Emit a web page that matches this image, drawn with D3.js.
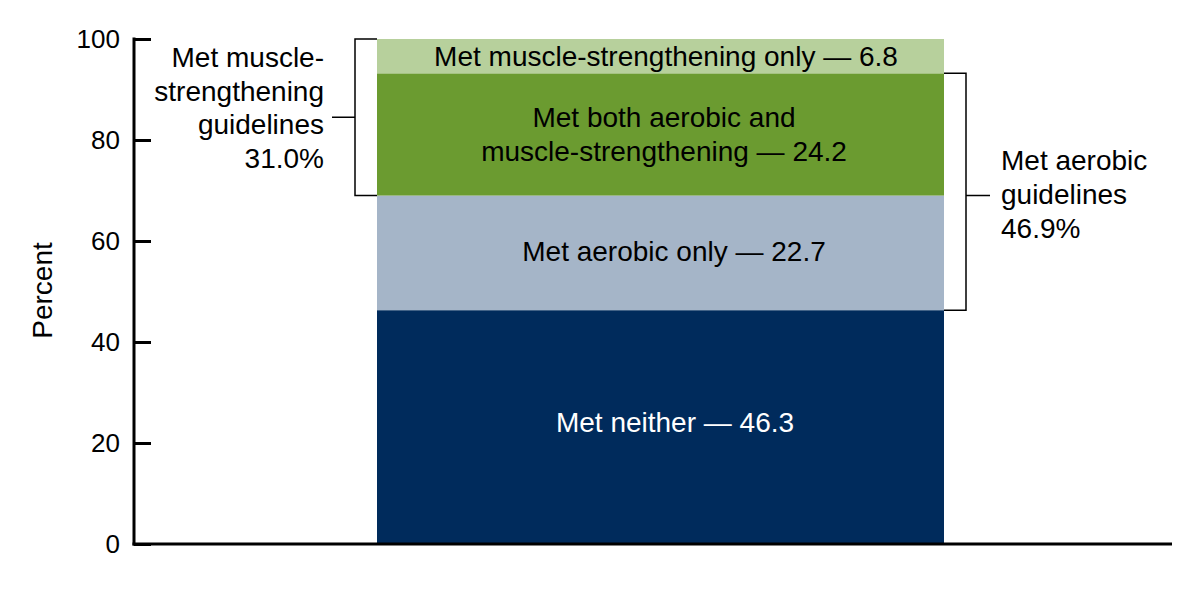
<!DOCTYPE html>
<html><head><meta charset="utf-8">
<script src="https://cdn.jsdelivr.net/npm/d3@7"></script>
<style>body{margin:0;background:#fff}svg{display:block}text{font-family:"Liberation Sans",Arial,sans-serif}</style>
</head><body>
<svg id="c" width="1200" height="591"></svg>
<script>
const categories = ["Met neither", "Met aerobic only", "Met both aerobic and muscle-strengthening", "Met muscle-strengthening only"];
const values = [46.3, 22.7, 24.2, 6.8];
const colors = ["#002b5c", "#a5b5c8", "#6b9b30", "#b7d09c"];
const segLabels = [["Met neither — 46.3"], ["Met aerobic only — 22.7"], ["Met both aerobic and", "muscle-strengthening — 24.2"], ["Met muscle-strengthening only — 6.8"]];
const labelColors = ["#fff", "#000", "#000", "#000"];
const yTicks = [0, 20, 40, 60, 80, 100];
const muscleLabel = ["Met muscle-", "strengthening", "guidelines", "31.0%"];
const aerobicLabel = ["Met aerobic", "guidelines", "46.9%"];

// label layout (pixels)
const segLabelX = [675, 674, 664, 666];
const segLabelBase = [[432], [261], [127, 161], [66]];

const svg = d3.select("#c");
const y = d3.scaleLinear().domain([0, 100]).range([544, 39]);
const barX0 = 377, barX1 = 944;
const FS = 28;

let cum = 0;
const stack = values.map((v, i) => { const d = {i, y0: cum, y1: Math.min(cum + v, 100)}; cum += v; return d; });

svg.selectAll("rect.seg").data(stack).enter().append("rect")
  .attr("x", barX0).attr("width", barX1 - barX0)
  .attr("y", d => y(d.y1)).attr("height", d => y(d.y0) - y(d.y1))
  .attr("fill", d => colors[d.i]);

stack.forEach(d => {
  segLabels[d.i].forEach((t, j) => {
    svg.append("text").attr("x", segLabelX[d.i]).attr("y", segLabelBase[d.i][j])
      .attr("text-anchor", "middle").attr("font-size", FS).attr("fill", labelColors[d.i]).text(t);
  });
});

// axis
const yAxis = d3.axisRight(y).tickValues(yTicks).tickSize(17).tickFormat("");
const ag = svg.append("g").attr("transform", "translate(134,0)").call(yAxis);
ag.select(".domain").remove();
ag.selectAll(".tick line").attr("stroke", "#000").attr("stroke-width", 3);
svg.append("line").attr("x1", 134).attr("x2", 134).attr("y1", y(100) - 1.5).attr("y2", y(0) + 1.5).attr("stroke", "#000").attr("stroke-width", 3);
svg.append("line").attr("x1", 132.5).attr("x2", 1172).attr("y1", y(0)).attr("y2", y(0)).attr("stroke", "#000").attr("stroke-width", 3);
svg.selectAll("text.tk").data(yTicks).enter().append("text")
  .attr("x", 120).attr("y", d => y(d) + 9.3).attr("text-anchor", "end").attr("font-size", 26).text(d => d);

svg.append("text").attr("transform", `translate(52,${y(50) - 1}) rotate(-90)`).attr("text-anchor", "middle")
  .attr("font-size", FS).text("Percent");

// left bracket (muscle-strengthening: 69.0 to 100)
const mLo = values[0] + values[1], mHi = 100;
const lb = 355;
svg.append("path").attr("d", `M${barX0},${y(mHi)}H${lb}V${y(mLo)}H${barX0}M${lb},${y((mLo+mHi)/2)}H332`)
  .attr("fill", "none").attr("stroke", "#000").attr("stroke-width", 1.5);
muscleLabel.forEach((t, j) => {
  svg.append("text").attr("x", 324).attr("y", 67 + j * 33.7).attr("text-anchor", "end").attr("font-size", FS).text(t);
});

// right bracket (aerobic: 46.3 to 93.2)
const aLo = values[0], aHi = values[0] + values[1] + values[2];
const rb = 966;
svg.append("path").attr("d", `M${barX1},${y(aHi)}H${rb}V${y(aLo)}H${barX1}M${rb},${y(mLo)}H990`)
  .attr("fill", "none").attr("stroke", "#000").attr("stroke-width", 1.5);
aerobicLabel.forEach((t, j) => {
  svg.append("text").attr("x", 1001).attr("y", 170 + j * 34).attr("text-anchor", "start").attr("font-size", FS).text(t);
});
</script>
</body></html>
